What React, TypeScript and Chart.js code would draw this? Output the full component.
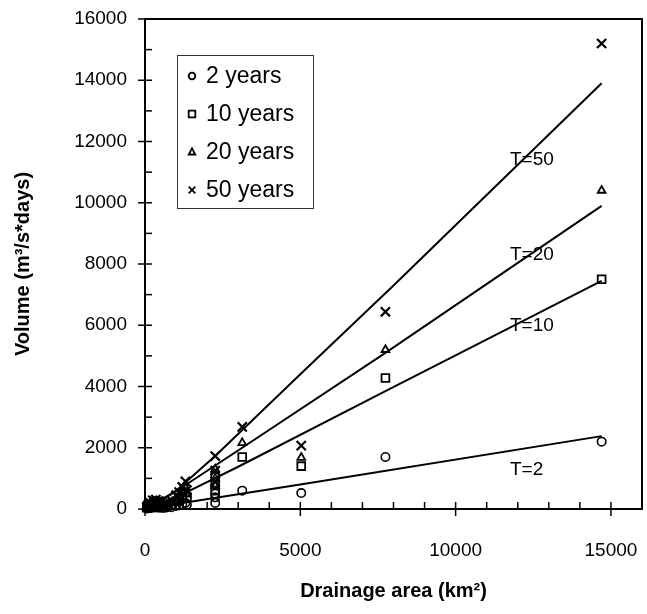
import React, { useEffect, useRef } from "react";
import { Chart, registerables } from "chart.js";

Chart.register(...registerables);

// Drainage area (km²) of each station
const areas = [60, 100, 150, 200, 250, 300, 350, 400, 450, 500, 600, 700, 850, 1000, 1100, 1200, 1300, 1350, 2260, 2260, 2260, 3130, 5030, 7740, 14700];
// Flood volumes (m³/s*days) per return period
const vol2 = [15, 25, 40, 30, 60, 50, 70, 45, 60, 40, 30, 50, 60, 100, 120, 150, 200, 140, 200, 380, 500, 600, 520, 1700, 2200];
const vol10 = [40, 70, 110, 90, 150, 130, 170, 120, 140, 100, 80, 110, 150, 250, 300, 420, 550, 380, 600, 800, 1050, 1700, 1400, 4280, 7500];
const vol20 = [55, 95, 150, 120, 200, 180, 230, 170, 190, 140, 110, 150, 200, 330, 400, 560, 700, 480, 750, 1000, 1300, 2160, 1680, 5200, 10400];
const vol50 = [75, 130, 210, 170, 280, 250, 310, 240, 260, 200, 150, 200, 270, 450, 550, 720, 900, 620, 900, 1250, 1730, 2680, 2070, 6440, 15200];

// Fitted curves
const fit2X = [200, 1000, 5000, 14700];
const fit2Y = [30, 160, 800, 2380];
const fit10X = [200, 1000, 3000, 7740, 14700];
const fit10Y = [40, 380, 1380, 3850, 7450];
const fit20X = [200, 1000, 3130, 7740, 14700];
const fit20Y = [60, 580, 2000, 5100, 9900];
const fit50X = [200, 1000, 2260, 5000, 8000, 14700];
const fit50Y = [100, 600, 1730, 4400, 7300, 13900];

const seriesNames = ["2 years", "10 years", "20 years", "50 years"];
const curveLabels = ["T=50", "T=20", "T=10", "T=2"];
const curveLabelX = [11750, 11750, 11750, 11750];
const curveLabelY = [11400, 8300, 5980, 1270];

const yTicks = [0, 2000, 4000, 6000, 8000, 10000, 12000, 14000, 16000];
const xTicks = [0, 5000, 10000, 15000];

const FONT = "Arial, 'Liberation Sans', sans-serif";

function pts(xs: number[], ys: number[]) {
  return xs.map((x, i) => ({ x, y: ys[i] }));
}

function drawMarker(ctx: CanvasRenderingContext2D, style: string, x: number, y: number, r: number) {
  ctx.beginPath();
  if (style === "circle") {
    ctx.arc(x, y, r, 0, Math.PI * 2);
  } else if (style === "rect") {
    ctx.rect(x - r, y - r, 2 * r, 2 * r);
  } else if (style === "triangle") {
    ctx.moveTo(x, y - r * 1.1);
    ctx.lineTo(x + r, y + r * 0.75);
    ctx.lineTo(x - r, y + r * 0.75);
    ctx.closePath();
  } else {
    ctx.moveTo(x - r, y - r);
    ctx.lineTo(x + r, y + r);
    ctx.moveTo(x + r, y - r);
    ctx.lineTo(x - r, y + r);
  }
  ctx.stroke();
}

const framePlugin = {
  id: "frameAndTicks",
  afterDraw(chart: any) {
    const { ctx, chartArea: a, scales } = chart;
    const xs = scales.x;
    const ys = scales.y;
    ctx.save();
    ctx.strokeStyle = "#000";
    ctx.lineWidth = 2;
    ctx.strokeRect(a.left, a.top, a.right - a.left, a.bottom - a.top);
    ctx.lineWidth = 1.5;
    for (let v = 0; v <= 16000; v += 1000) {
      const py = ys.getPixelForValue(v);
      ctx.beginPath();
      ctx.moveTo(v % 2000 === 0 ? a.left - 7 : a.left, py);
      ctx.lineTo(a.left + 7, py);
      ctx.stroke();
      const px = xs.getPixelForValue(v);
      ctx.beginPath();
      ctx.moveTo(px, v % 5000 === 0 ? a.bottom + 7 : a.bottom);
      ctx.lineTo(px, a.bottom - 7);
      ctx.stroke();
    }
    // curve labels
    ctx.fillStyle = "#000";
    ctx.font = `19px ${FONT}`;
    ctx.textAlign = "left";
    ctx.textBaseline = "middle";
    curveLabels.forEach((t, i) => {
      ctx.fillText(t, xs.getPixelForValue(curveLabelX[i]), ys.getPixelForValue(curveLabelY[i]));
    });
    // legend
    const lx = 177, ly = 55, lw = 136, lh = 153;
    ctx.fillStyle = "#fff";
    ctx.fillRect(lx, ly, lw, lh);
    ctx.lineWidth = 1;
    ctx.strokeStyle = "#333";
    ctx.strokeRect(lx + 0.5, ly + 0.5, lw, lh);
    const styles = ["circle", "rect", "triangle", "cross"];
    ctx.font = `23px ${FONT}`;
    ctx.fillStyle = "#000";
    ctx.strokeStyle = "#000";
    seriesNames.forEach((name, i) => {
      const cy = ly + 21 + i * 38;
      ctx.lineWidth = 1.8;
      drawMarker(ctx, styles[i], lx + 15, cy, 3.3);
      ctx.fillText(name, lx + 29, cy + 1);
    });
    ctx.restore();
  },
};

export default function App() {
  const ref = useRef<HTMLCanvasElement | null>(null);
  useEffect(() => {
    if (!ref.current) return;
    Chart.defaults.font.family = FONT;
    Chart.defaults.color = "#000";
    const marker = (label: string, data: number[], style: string, r: number, bw: number) => ({
      type: "scatter" as const,
      label,
      data: pts(areas, data),
      pointStyle: style,
      pointRadius: r,
      pointHoverRadius: r,
      pointBorderColor: "#000",
      pointBackgroundColor: "rgba(255,255,255,0)",
      pointBorderWidth: bw,
      showLine: false,
      clip: false,
    });
    const curve = (label: string, xs: number[], ys: number[]) => ({
      type: "line" as const,
      label,
      data: pts(xs, ys),
      borderColor: "#000",
      borderWidth: 2,
      pointRadius: 0,
      fill: false,
      tension: 0,
    });
    const chart = new Chart(ref.current, {
      type: "scatter",
      data: {
        datasets: [
          curve("T=2", fit2X, fit2Y),
          curve("T=10", fit10X, fit10Y),
          curve("T=20", fit20X, fit20Y),
          curve("T=50", fit50X, fit50Y),
          marker(seriesNames[0], vol2, "circle", 4.2, 1.6),
          marker(seriesNames[1], vol10, "rect", 5.5, 1.8),
          marker(seriesNames[2], vol20, "triangle", 4.5, 1.8),
          marker(seriesNames[3], vol50, "crossRot", 6.5, 2.2),
        ] as any,
      },
      options: {
        responsive: false,
        animation: false,
        layout: { autoPadding: false, padding: { left: 0, top: 19, right: 5, bottom: 0 } },
        plugins: { legend: { display: false }, tooltip: { enabled: false } },
        scales: {
          x: {
            type: "linear",
            min: 0,
            max: 16000,
            afterFit: (s: any) => { s.height = 105; s.paddingLeft = 0; s.paddingRight = 0; },
            afterBuildTicks: (s: any) => { s.ticks = xTicks.map((v) => ({ value: v })); },
            grid: { display: false, drawTicks: false },
            border: { display: false },
            ticks: { padding: 30, font: { size: 19 }, color: "#000", callback: (v: any) => String(v) },
            title: {
              display: true,
              text: "Drainage area (km²)",
              font: { size: 20, weight: "bold" },
              color: "#000",
              padding: { top: 0, bottom: 11 },
            },
          },
          y: {
            type: "linear",
            min: 0,
            max: 16000,
            afterFit: (s: any) => { s.width = 145; s.paddingTop = 0; s.paddingBottom = 0; },
            afterBuildTicks: (s: any) => { s.ticks = yTicks.map((v) => ({ value: v })); },
            grid: { display: false, drawTicks: false },
            border: { display: false },
            ticks: { padding: 18, font: { size: 19 }, color: "#000", callback: (v: any) => String(v) },
            title: {
              display: true,
              text: "Volume (m³/s*days)",
              font: { size: 20, weight: "bold" },
              color: "#000",
              padding: { top: 11, bottom: 0 },
            },
          },
        },
      },
      plugins: [framePlugin],
    });
    return () => chart.destroy();
  }, []);
  return (
    <div style={{ position: "absolute", left: 0, top: 0, width: 647, height: 614, background: "#fff" }}>
      <canvas ref={ref} width={647} height={614} style={{ width: 647, height: 614 }} />
    </div>
  );
}
